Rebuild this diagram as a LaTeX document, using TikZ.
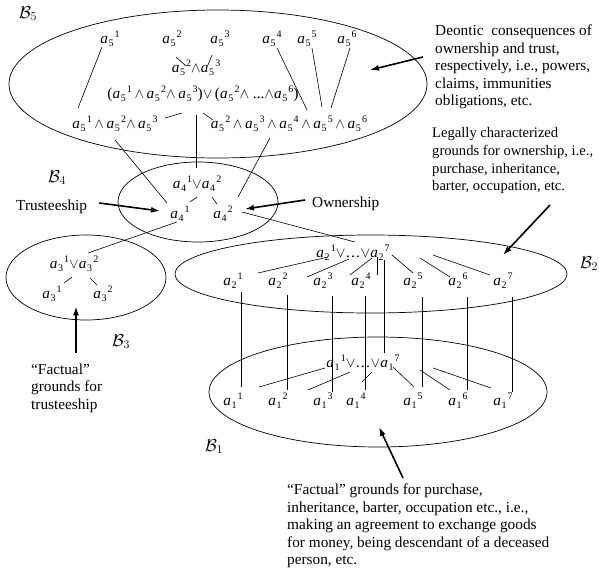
\documentclass[tikz,border=0pt]{standalone}
\usepackage{fontspec}
\setmainfont{Liberation Serif}
\usetikzlibrary{arrows.meta,calc,shapes.geometric}
\newcommand\Aa[2]{\textit{a}\kern0.6pt\makebox[6.2pt][l]{\raisebox{-3.8pt}{\fontsize{10}{10}\selectfont #1}}\raisebox{6pt}{\fontsize{10}{10}\selectfont #2}}
\newcommand\wg{$\wedge$}
\newcommand\vg{$\vee$}
\newcommand\Bl[1]{$\mathcal{B}_{#1}$}
\begin{document}
\begin{tikzpicture}[x=1pt,y=-1pt,
  font=\fontsize{15.3}{17.6}\selectfont,
  lbl/.style={inner sep=0pt, anchor=base},
  blab/.style={inner sep=0pt, anchor=base west, font=\fontsize{17}{17}\selectfont},
  txt/.style={inner sep=0pt, anchor=north west, align=left},
  ln/.style={line width=0.6pt},
  arr/.style={line width=1.6pt, -{Latex[length=9pt,width=6pt]}},
  ell/.style={draw, line width=0.7pt, ellipse, inner sep=0pt}]
\fill[white] (0,0) rectangle (599,573);
\useasboundingbox (0,0) rectangle (599,573);
% ellipses
\node[ell, minimum width=418pt, minimum height=148pt] (E5) at (218,84) {};
\node[ell, minimum width=160pt, minimum height=80pt] (E4) at (198,202) {};
\node[ell, minimum width=160pt, minimum height=85pt] (E3) at (86,277.5) {};
\node[ell, minimum width=392pt, minimum height=78pt] (E2) at (371,274) {};
\node[ell, minimum width=338pt, minimum height=110pt] (E1) at (378,392) {};
% set labels
\node[blab] (B5) at (19,18) {\Bl{5}};
\node[blab] (B4) at (48,182) {\Bl{4}};
\node[blab] (B3) at (112,346) {\Bl{3}};
\node[blab] (B2) at (580,268) {\Bl{2}};
\node[blab] (B1) at (205,451) {\Bl{1}};
% B5 content
\node[lbl] (n51) at (110,43) {\Aa{5}{1}};
\node[lbl] (n52) at (172,43) {\Aa{5}{2}};
\node[lbl] (n53) at (220,43) {\Aa{5}{3}};
\node[lbl] (n54) at (272,43) {\Aa{5}{4}};
\node[lbl] (n55) at (307,43) {\Aa{5}{5}};
\node[lbl] (n56) at (347,43) {\Aa{5}{6}};
\node[lbl] (n5c) at (196,72) {\Aa{5}{2}\wg\Aa{5}{3}};
\node[lbl] (n5d) at (203,98) {(\Aa{5}{1}\,\wg\,\Aa{5}{2}\wg\,\Aa{5}{3})\vg\,(\Aa{5}{2}\wg\ ...\wg\Aa{5}{6})};
\node[lbl] (n5L) at (115,128) {\Aa{5}{1}\,\wg\,\Aa{5}{2}\wg\,\Aa{5}{3}};
\node[lbl] (n5R) at (289,128) {\Aa{5}{2}\,\wg\,\Aa{5}{3}\,\wg\,\Aa{5}{4}\,\wg\,\Aa{5}{5}\,\wg\,\Aa{5}{6}};
% B4 content
\node[lbl] (n4d) at (197,188) {\Aa{4}{1}\vg\Aa{4}{2}};
\node[lbl] (n41) at (180,218) {\Aa{4}{1}};
\node[lbl] (n42) at (223,218) {\Aa{4}{2}};
% B3 content
\node[lbl] (n3d) at (74,268) {\Aa{3}{1}\vg\Aa{3}{2}};
\node[lbl] (n31) at (52,298) {\Aa{3}{1}};
\node[lbl] (n32) at (103,298) {\Aa{3}{2}};
% B2 content
\node[lbl] (n2d) at (353,257) {\Aa{2}{1}\vg\ldots\vg\Aa{2}{7}};
\node[lbl] (n21) at (233,285) {\Aa{2}{1}};
\node[lbl] (n22) at (278,285) {\Aa{2}{2}};
\node[lbl] (n23) at (323,285) {\Aa{2}{3}};
\node[lbl] (n24) at (361,285) {\Aa{2}{4}};
\node[lbl] (n25) at (413,285) {\Aa{2}{5}};
\node[lbl] (n26) at (458,285) {\Aa{2}{6}};
\node[lbl] (n27) at (503,285) {\Aa{2}{7}};
% B1 content
\node[lbl] (n1d) at (363,367) {\Aa{1}{1}\vg\ldots\vg\Aa{1}{7}};
\node[lbl] (n11) at (233,405) {\Aa{1}{1}};
\node[lbl] (n12) at (278,405) {\Aa{1}{2}};
\node[lbl] (n13) at (323,405) {\Aa{1}{3}};
\node[lbl] (n14) at (356,405) {\Aa{1}{4}};
\node[lbl] (n15) at (413,405) {\Aa{1}{5}};
\node[lbl] (n16) at (458,405) {\Aa{1}{6}};
\node[lbl] (n17) at (503,405) {\Aa{1}{7}};
% texts
\node[txt] (deon) at (435,24.5) {Deontic\ \ consequences of\\ownership and trust,\\respectively, i.e., powers,\\claims, immunities\\obligations, etc.};
\node[txt, font=\fontsize{14.6}{17.6}\selectfont] (legal) at (432,127.5) {Legally characterized\\grounds for ownership, i.e.,\\purchase, inheritance,\\barter, occupation, etc.};
\node[inner sep=0pt, anchor=base west] (trus) at (16,210) {Trusteeship};
\node[inner sep=0pt, anchor=base west] (own) at (312,207) {Ownership};
\node[txt] (fact3) at (31,363.5) {“Factual”\\grounds for\\trusteeship};
\node[txt] (fact1) at (287,483.5) {“Factual” grounds for purchase,\\inheritance, barter, occupation etc., i.e.,\\making an agreement to exchange goods\\for money, being descendant of a deceased\\person, etc.};
% B5 lines
\draw[ln] ($(n51.base)+(-8,4)$) -- ($(n5L.base)+(-37,-20)$);
\draw[ln] ($(n52.base)+(4,14)$) -- ($(n5c.base)+(-10,-6)$);
\draw[ln] ($(n53.base)+(-8,12)$) -- ($(n5c.base)+(12,-7)$);
\draw[ln] ($(n54.base)+(5,5)$) -- ($(n5R.base)+(18,-18)$);
\draw[ln] ($(n55.base)+(5,5)$) -- ($(n5R.base)+(33,-21)$);
\draw[ln] ($(n56.base)+(3,5)$) -- ($(n5R.base)+(42,-20)$);
\draw[ln] ($(n5d.base)+(-21,15)$) -- ($(n5L.base)+(50,-10)$);
\draw[ln] ($(n5d.base)+(0,15)$) -- ($(n5R.base)+(-76,-8)$);
\draw[ln] ($(n5d.base)+(-7,17)$) -- ($(n4d.base)+(-1,-20)$);
\draw[ln] ($(n5L.base)+(0,12)$) -- ($(n41.base)+(-13,-15)$);
\draw[ln] ($(n5R.base)+(-19,10)$) -- ($(n42.base)+(15,-21)$);
% B4 lines
\draw[ln] ($(n4d.base)+(0,9)$) -- ($(n41.base)+(10,-16)$);
\draw[ln] ($(n4d.base)+(15,9)$) -- ($(n42.base)+(-6,-14)$);
\draw[ln] ($(n42.base)+(19,-6)$) -- ($(n2d.base)+(2,-15)$);
\draw[ln] ($(n41.base)+(-3,4)$) -- ($(n3d.base)+(14,-15)$);
% B3 lines
\draw[ln] ($(n3d.base)+(-2,9)$) -- ($(n31.base)+(12,-15)$);
\draw[ln] ($(n3d.base)+(16,10)$) -- ($(n32.base)+(-6,-13)$);
% B2 lines
\draw[ln] ($(n2d.base)+(-25,0)$) -- ($(n22.base)+(-20,-12)$);
\draw[ln] ($(n2d.base)+(-4,2)$) -- ($(n23.base)+(-16,-8)$);
\draw[ln] ($(n2d.base)+(19,1)$) -- ($(n24.base)+(-11,-10)$);
\draw[ln] ($(n2d.base)+(24,0)$) -- ($(n24.base)+(16,-10)$);
\draw[ln] ($(n2d.base)+(31,3)$) -- ($(n1d.base)+(21,-14)$);
\draw[ln] ($(n2d.base)+(39,-2)$) -- ($(n25.base)+(0,-12)$);
\draw[ln] ($(n2d.base)+(67,1)$) -- ($(n26.base)+(-8,-8)$);
\draw[ln] ($(n2d.base)+(80,-2)$) -- ($(n27.base)+(-13,-10)$);
% verticals B2 - B1
\draw[ln] ($(n21.base)+(8,7)$) -- ($(n11.base)+(8,-18)$);
\draw[ln] ($(n22.base)+(9,10)$) -- ($(n12.base)+(9,-15)$);
\draw[ln] ($(n23.base)+(9,11)$) -- ($(n13.base)+(9,-13)$);
\draw[ln] ($(n24.base)+(4,11)$) -- ($(n14.base)+(9,-15)$);
\draw[ln] ($(n25.base)+(9,12)$) -- ($(n15.base)+(9,-18)$);
\draw[ln] ($(n26.base)+(9,12)$) -- ($(n16.base)+(9,-15)$);
\draw[ln] ($(n27.base)+(9,12)$) -- ($(n17.base)+(9,-13)$);
% B1 lines
\draw[ln] ($(n12.base)+(-19,-18)$) -- ($(n1d.base)+(-38,1)$);
\draw[ln] ($(n13.base)+(-15,-15)$) -- ($(n1d.base)+(-13,5)$);
\draw[ln] ($(n14.base)+(6,-23)$) -- ($(n1d.base)+(9,5)$);
\draw[ln] ($(n1d.base)+(30,0)$) -- ($(n15.base)+(1,-18)$);
\draw[ln] ($(n1d.base)+(57,3)$) -- ($(n16.base)+(-8,-15)$);
\draw[ln] ($(n1d.base)+(70,1)$) -- ($(n17.base)+(-12,-17)$);
% arrows
\draw[arr] ($(deon.north west)+(-12,32.5)$) -- ($(E5.center)+(152,-14)$);
\draw[arr] ($(legal.north west)+(118,77.5)$) -- ($(E2.center)+(132,-19)$);
\draw[arr] ($(trus.base east)+(12,-7)$) -- ($(n41.base)+(-20,-7)$);
\draw[arr] ($(own.base west)+(-7,-7)$) -- ($(n42.base)+(22,-9)$);
\draw[arr] ($(fact3.north west)+(45,-10.5)$) -- ($(E3.south)+(-10,-14)$);
\draw[arr] ($(fact1.north west)+(116,-5.5)$) -- ($(E1.center)+(1,35)$);
\end{tikzpicture}
\end{document}
